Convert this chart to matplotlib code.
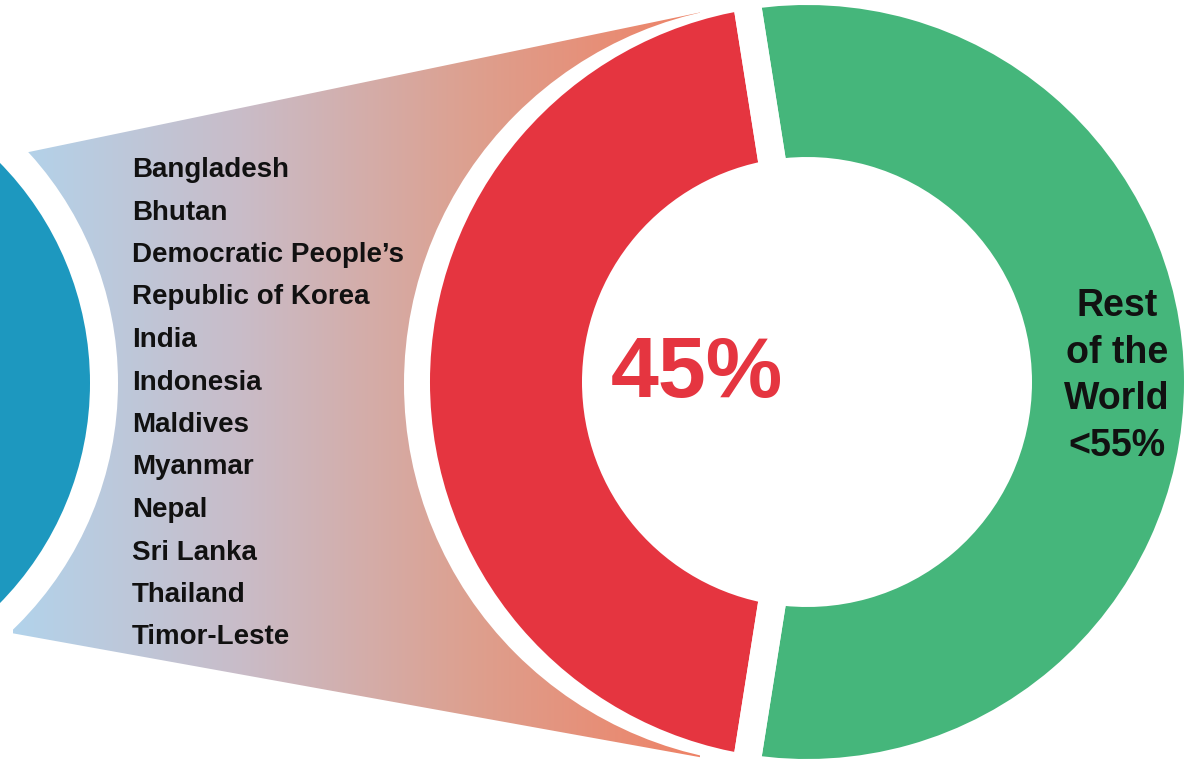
import numpy as np
import matplotlib.pyplot as plt
from matplotlib.patches import Circle, Polygon
from matplotlib.colors import LinearSegmentedColormap

plt.rcParams['font.family'] = ['Liberation Sans', 'DejaVu Sans']

# data
shares = [45, 55]
share_labels = ['45%', 'Rest\nof the\nWorld\n<55%']
share_colors = ['#E53540', '#45B67B']
countries = ['Bangladesh', 'Bhutan', "Democratic People\u2019s", 'Republic of Korea',
             'India', 'Indonesia', 'Maldives', 'Myanmar', 'Nepal', 'Sri Lanka',
             'Thailand', 'Timor-Leste']

W, H = 1192, 761
fig = plt.figure(figsize=(W / 100, H / 100), dpi=100)
ax = fig.add_axes([0, 0, 1, 1])

# gradient band (blue circle -> red half of the donut)
grad = LinearSegmentedColormap.from_list('band', ['#B2D3EB', '#C9BCC8', '#DDA08F', '#EE8266'])
img = ax.imshow(np.linspace(0, 1, 256)[None, :], cmap=grad, aspect='auto',
                extent=(13, 700, H, 0), zorder=1)
band = Polygon([(0, 158), (760, 0), (760, 768), (0, 631)], closed=True,
               facecolor='none', edgecolor='none', transform=ax.transData)
ax.add_patch(band)
img.set_clip_path(band)

# white halos
ax.add_patch(Circle((785, 384), 381, facecolor='white', edgecolor='none', zorder=2))
ax.add_patch(Circle((-224, 383), 342, facecolor='white', edgecolor='none', zorder=2))

# blue circle on the left
ax.add_patch(Circle((-224, 383), 314, facecolor='#1D98BF', edgecolor='none', zorder=3))

# donut
wedges, _ = ax.pie(shares, colors=share_colors, startangle=99, counterclock=True,
                   radius=377, center=(807, 382), explode=[0.008, 0.008],
                   wedgeprops=dict(width=152, edgecolor='none'))
for w in wedges:
    w.set_zorder(4)
    cx, cy = w.center
    for th in (w.theta1, w.theta2):
        t = np.radians(th)
        r0, r1 = w.r - w.width - 10, w.r + 15
        ax.plot([cx + r0 * np.cos(t), cx + r1 * np.cos(t)],
                [cy + r0 * np.sin(t), cy + r1 * np.sin(t)],
                color='white', lw=20, solid_capstyle='butt', zorder=5)

# labels
for i, c in enumerate(countries):
    ax.text(132, 177 + 42.5 * i, c, fontsize=20, fontweight='bold',
            color='#111111', ha='left', va='baseline', zorder=6)

ax.text(697, 397, share_labels[0], fontsize=62, fontweight='bold',
        color=share_colors[0], ha='center', va='baseline', zorder=6)
ax.text(1117, 376, share_labels[1], fontsize=27, fontweight='bold',
        color='#111111', ha='center', va='center', linespacing=1.38, zorder=6)

ax.set_xlim(0, W)
ax.set_ylim(H, 0)
ax.set_aspect('auto')
ax.axis('off')

fig.savefig('out.png', dpi=100)
